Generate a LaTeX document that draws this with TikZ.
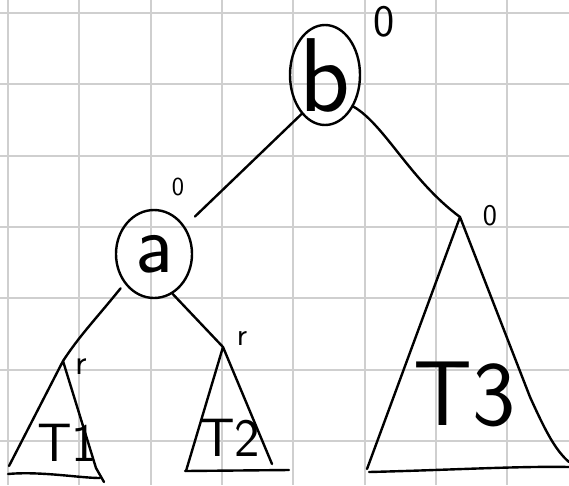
\documentclass[tikz,border=0pt]{standalone}
\usepackage{tikz}
\usetikzlibrary{shapes.geometric}

\begin{document}
\begin{tikzpicture}[
  x=1pt, y=-1pt,
  gridline/.style={draw=black!19, line width=2pt},
  edge/.style={line width=2.4pt, line cap=round, line join=round},
  vertex/.style={draw, ellipse, line width=2.4pt, inner sep=0pt},
  letter/.style={font=\sffamily\fontsize{#1}{#1}\selectfont, inner sep=0pt},
  bal/.style={font=\sffamily\fontsize{#1}{#1}\selectfont, inner sep=0pt}
]
  \useasboundingbox[fill=white] (0,0) rectangle (569,485);
  \foreach \i in {0,...,8}
    \draw[gridline] ({8+71.3*\i},0) -- ({8+71.3*\i},485);
  \foreach \j in {0,...,6}
    \draw[gridline] (0,{13+71.3*\j}) -- (569,{13+71.3*\j});

  \node[vertex, minimum width=70pt, minimum height=100pt,
    label={[letter=105]center:b}] (b) at (325,75) {};
  \node[vertex, minimum width=76pt, minimum height=88pt,
    label={[letter=84]center:a}] (a) at (154,254) {};

  \coordinate (t1top) at (63,361);
  \coordinate (t2top) at (223,347);
  \coordinate (t3top) at (460,217);

  \node[bal=45] (balb) at (384,22) {0};
  \node[bal=26] (bala) at (178,187) {0};
  \node[bal=30] (balt3) at (490,216) {0};
  \node[bal=36] (balt1) at (81,367) {r};
  \node[bal=32] (balt2) at (242,338) {r};

  \node[letter=54] (tt1) at (67,443) {T1};
  \node[letter=54] (tt2) at (230,438) {T2};
  \node[letter=92] (tt3) at (465,394) {T3};

  \draw[edge, shorten >=14pt] (b.239) -- (a.42);
  \draw[edge] (b.-48) .. controls (385,125) and (410,180) .. (t3top);
  \draw[edge, shorten <=6pt] (a.-135) .. controls (95,320) and (80,335) .. (t1top);
  \draw[edge] (a.-65) -- (t2top);

  \draw[edge] (9,466) -- (t1top) -- (96,468) -- (104,482);
  \draw[edge] (8,474) .. controls (40,471) and (80,478) .. (100,478);
  \draw[edge] (186,471) -- (t2top) -- (272,464);
  \draw[edge] (185,471) -- (289,470);
  \draw[edge] (367,469) -- (t3top) -- (530,397)
    .. controls (545,430) and (555,450) .. (569,462);
  \draw[edge] (369,472) .. controls (450,470) and (520,466) .. (569,467);
\end{tikzpicture}
\end{document}
